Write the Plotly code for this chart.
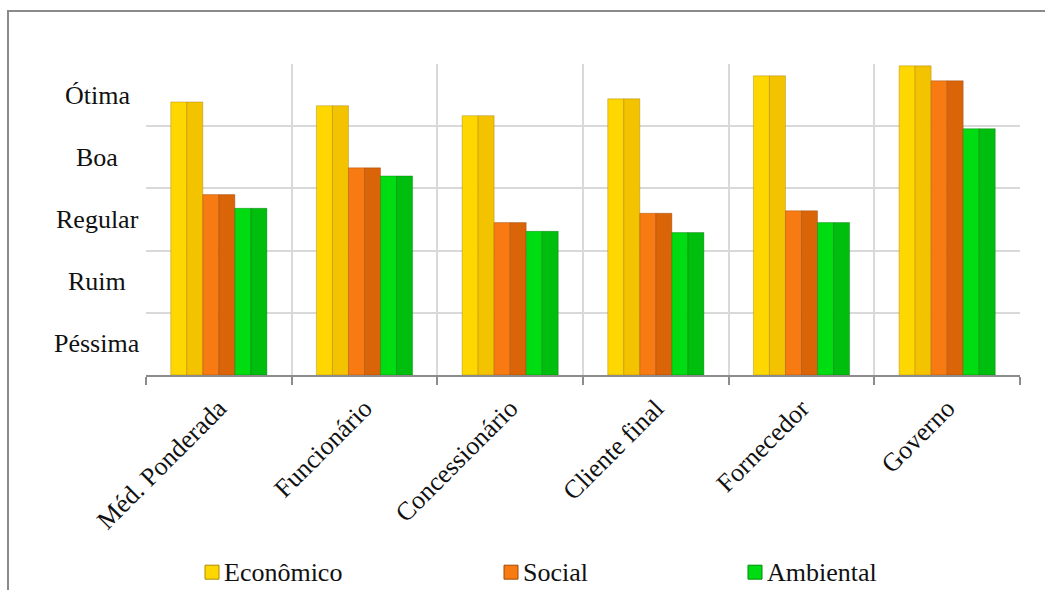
import plotly.graph_objects as go

categories = ["Méd. Ponderada", "Funcionário", "Concessionário", "Cliente final", "Fornecedor", "Governo"]
economico = [4.39, 4.33, 4.17, 4.44, 4.81, 4.97]
social = [2.90, 3.33, 2.45, 2.60, 2.64, 4.73]
ambiental = [2.68, 3.20, 2.31, 2.29, 2.45, 3.96]
series_names = ["Econômico", "Social", "Ambiental"]
rating_labels = ["Péssima", "Ruim", "Regular", "Boa", "Ótima"]
rating_positions = [0.5, 1.5, 2.5, 3.5, 4.5]
grid_values = [0, 1, 2, 3, 4, 5]

FONT = "Liberation Serif"
FS = 26
light = ["#FFD700", "#F77B12", "#00DC12"]
dark = ["#F3C300", "#DA6508", "#00BE0E"]
edge = ["rgba(150,110,0,0.6)", "rgba(140,60,0,0.6)", "rgba(0,100,0,0.6)"]
key_edge = ["#B08A00", "#A04A05", "#008A0A"]

fig = go.Figure()
for i, (name, vals) in enumerate(zip(series_names, [economico, social, ambiental])):
    fig.add_trace(go.Bar(
        x=categories, y=vals, name=name,
        marker=dict(color=light[i], line=dict(color=edge[i], width=0.6)),
        showlegend=False, hoverinfo="skip"))
    fig.add_trace(go.Bar(
        x=categories, y=vals, name=name,
        marker=dict(color=dark[i], line=dict(color=edge[i], width=0.6)),
        showlegend=False, hoverinfo="skip"))

# plot area geometry (px)
L, R, T, B = 146, 1020, 64, 375.5
W, H = R - L, B - T

def px_x(p):
    return (p - L) / W

def px_y(p):
    return (B - p) / H

for txt, yv in zip(rating_labels, rating_positions):
    fig.add_annotation(x=px_x(97), xref="paper", y=yv, yref="y", text=txt,
                       showarrow=False, xanchor="center", yanchor="middle",
                       font=dict(family=FONT, size=FS, color="#111"))

# legend key (square + label) built from the series names/colours
shapes = [dict(type="rect", xref="paper", yref="paper",
               x0=px_x(8), y0=px_y(640), x1=px_x(1100), y1=px_y(11),
               line=dict(color="#8a8a8a", width=2), fillcolor="rgba(0,0,0,0)", layer="below")]
key_x = [205, 504, 748]
for i, (name, kx) in enumerate(zip(series_names, key_x)):
    shapes.append(dict(type="rect", xref="paper", yref="paper",
                       x0=px_x(kx), x1=px_x(kx + 14), y0=px_y(580), y1=px_y(566),
                       fillcolor=light[i], line=dict(color=key_edge[i], width=1)))
    fig.add_annotation(x=px_x(kx + 17), xref="paper", y=px_y(573), yref="paper",
                       text=name, showarrow=False, xanchor="left", yanchor="middle",
                       font=dict(family=FONT, size=FS, color="#111"))

fig.update_layout(
    width=1045, height=590,
    margin=dict(l=L, r=1045 - R, t=T, b=590 - B, autoexpand=False),
    paper_bgcolor="white", plot_bgcolor="white",
    barmode="group", bargap=0.34, bargroupgap=0,
    font=dict(family=FONT, size=FS, color="#111"),
    showlegend=False,
    xaxis=dict(tickson="boundaries", ticks="outside", ticklen=8, tickcolor="#8c8c8c",
               tickwidth=1.5, showline=True, linecolor="#8c8c8c", linewidth=1.5,
               showgrid=True, gridcolor="#d9d9d9", gridwidth=1.5, tickangle=-45,
               automargin=False, ticklabelstandoff=6,
               tickfont=dict(family=FONT, size=FS, color="#111")),
    yaxis=dict(range=[0, 5], tickvals=grid_values, showticklabels=False,
               showgrid=True, gridcolor="#d9d9d9", gridwidth=1.5, zeroline=False,
               showline=False, ticks="", automargin=False),
    shapes=shapes,
)

fig.write_html("out.html")
